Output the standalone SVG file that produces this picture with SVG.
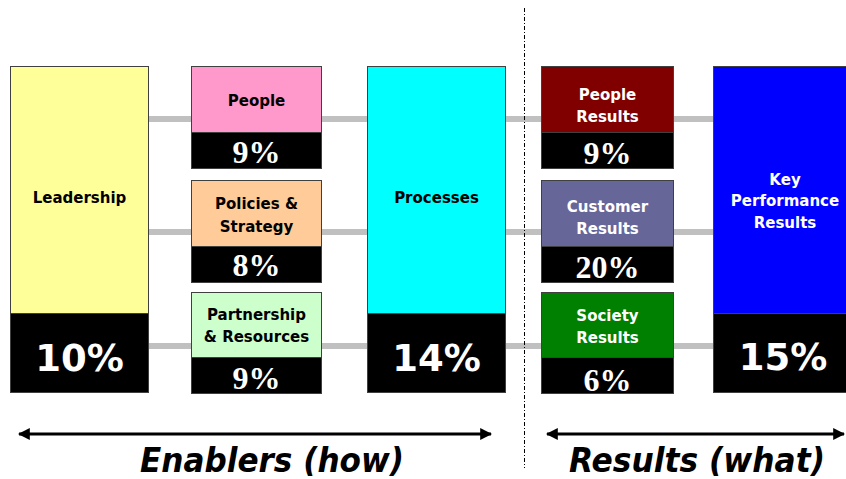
<svg xmlns="http://www.w3.org/2000/svg" width="846" height="479" viewBox="0 0 846 479">
  <defs>
    <marker id="ah" viewBox="0 0 10 10" refX="9" refY="5" markerWidth="4" markerHeight="4" orient="auto-start-reverse" markerUnits="strokeWidth">
      <path d="M0,0 L10,5 L0,10 Z" fill="#000"/>
    </marker>
  </defs>
  <style>
    .box { stroke: #404040; stroke-width: 1; }
    .pct { fill: #000; stroke: #404040; stroke-width: 1; }
    .lbl { font-family: "DejaVu Sans", Verdana, sans-serif; font-weight: bold; font-size: 15px; text-anchor: middle; fill: #000; }
    .lbl.w { fill: #fff; }
    .sp { font-family: "Liberation Serif", "Times New Roman", serif; font-weight: bold; font-size: 32px; text-anchor: middle; fill: #fff; }
    .bp { font-family: "DejaVu Sans", Verdana, sans-serif; font-weight: bold; font-size: 37px; text-anchor: middle; fill: #fff; }
    .bar { fill: #c0c0c0; }
    .cap { font-family: "DejaVu Sans", Verdana, sans-serif; font-weight: bold; font-style: italic; font-size: 33px; text-anchor: middle; fill: #000; }
  </style>

  <rect width="846" height="479" fill="#fff"/>

  <!-- grey links between columns -->
  <g id="connectors">
    <rect class="bar" x="149" y="116" width="42" height="6"/>
    <rect class="bar" x="149" y="229" width="42" height="6"/>
    <rect class="bar" x="149" y="343" width="42" height="6"/>
    <rect class="bar" x="322" y="116" width="45" height="6"/>
    <rect class="bar" x="322" y="229" width="45" height="6"/>
    <rect class="bar" x="322" y="343" width="45" height="6"/>
    <rect class="bar" x="506" y="116" width="35" height="6"/>
    <rect class="bar" x="506" y="229" width="35" height="6"/>
    <rect class="bar" x="506" y="343" width="35" height="6"/>
    <rect class="bar" x="673" y="116" width="40" height="6"/>
    <rect class="bar" x="673" y="229" width="40" height="6"/>
    <rect class="bar" x="673" y="343" width="40" height="6"/>
    <!-- divider between enablers and results -->
    <line x1="524.5" y1="8" x2="524.5" y2="468" stroke="#000" stroke-width="1" stroke-dasharray="4 2 1 2"/>
    <!-- span arrows -->
    <line x1="19" y1="434" x2="491" y2="434" stroke="#000" stroke-width="3" marker-start="url(#ah)" marker-end="url(#ah)"/>
    <line x1="547" y1="434" x2="844" y2="434" stroke="#000" stroke-width="3" marker-start="url(#ah)" marker-end="url(#ah)"/>
  </g>

  <g id="leadership">
    <rect class="box" x="10.5" y="66.5" width="138" height="247" fill="#ffff99"/>
    <rect class="pct" x="10.5" y="313.5" width="138" height="79"/>
    <text class="lbl" x="79.5" y="203">Leadership</text>
    <text class="bp" x="79.5" y="371">10%</text>
  </g>

  <g id="people">
    <rect class="box" x="191.5" y="66.5" width="130" height="66" fill="#ff99cc"/>
    <rect class="pct" x="191.5" y="132.5" width="130" height="36"/>
    <text class="lbl" x="256.5" y="106">People</text>
    <text class="sp" x="256.5" y="163">9%</text>
  </g>

  <g id="policies">
    <rect class="box" x="191.5" y="180.5" width="130" height="66" fill="#ffcc99"/>
    <rect class="pct" x="191.5" y="246.5" width="130" height="36"/>
    <text class="lbl" x="256.5" y="209">Policies &amp;</text>
    <text class="lbl" x="256.5" y="232">Strategy</text>
    <text class="sp" x="256.5" y="276">8%</text>
  </g>

  <g id="partnership">
    <rect class="box" x="191.5" y="292.5" width="130" height="65" fill="#ccffcc"/>
    <rect class="pct" x="191.5" y="357.5" width="130" height="36"/>
    <text class="lbl" x="256.5" y="320">Partnership</text>
    <text class="lbl" x="256.5" y="342">&amp; Resources</text>
    <text class="sp" x="256.5" y="389">9%</text>
  </g>

  <g id="processes">
    <rect class="box" x="367.5" y="66.5" width="138" height="247" fill="#00ffff"/>
    <rect class="pct" x="367.5" y="313.5" width="138" height="79"/>
    <text class="lbl" x="436.5" y="203">Processes</text>
    <text class="bp" x="436.5" y="371">14%</text>
  </g>

  <g id="people-results">
    <rect class="box" x="541.5" y="66.5" width="132" height="66" fill="#800000"/>
    <rect class="pct" x="541.5" y="132.5" width="132" height="36"/>
    <text class="lbl w" x="607.5" y="100">People</text>
    <text class="lbl w" x="607.5" y="122">Results</text>
    <text class="sp" x="607.5" y="164">9%</text>
  </g>

  <g id="customer-results">
    <rect class="box" x="541.5" y="180.5" width="132" height="66" fill="#666699"/>
    <rect class="pct" x="541.5" y="246.5" width="132" height="36"/>
    <text class="lbl w" x="607.5" y="212">Customer</text>
    <text class="lbl w" x="607.5" y="234">Results</text>
    <text class="sp" x="607.5" y="278">20%</text>
  </g>

  <g id="society-results">
    <rect class="box" x="541.5" y="292.5" width="132" height="65" fill="#008000"/>
    <rect class="pct" x="541.5" y="357.5" width="132" height="36"/>
    <text class="lbl w" x="607.5" y="321">Society</text>
    <text class="lbl w" x="607.5" y="343">Results</text>
    <text class="sp" x="607.5" y="391">6%</text>
  </g>

  <g id="key-performance-results">
    <rect class="box" x="713.5" y="66.5" width="140" height="247" fill="#0000ff"/>
    <rect class="pct" x="713.5" y="313.5" width="140" height="79"/>
    <text class="lbl w" x="785" y="185">Key</text>
    <text class="lbl w" x="785" y="206">Performance</text>
    <text class="lbl w" x="785" y="228">Results</text>
    <text class="bp" x="783" y="370">15%</text>
  </g>

  <g id="captions">
    <text class="cap" x="272" y="472" textLength="264" lengthAdjust="spacingAndGlyphs">Enablers (how)</text>
    <text class="cap" x="697" y="472" textLength="256" lengthAdjust="spacingAndGlyphs">Results (what)</text>
  </g>
</svg>
